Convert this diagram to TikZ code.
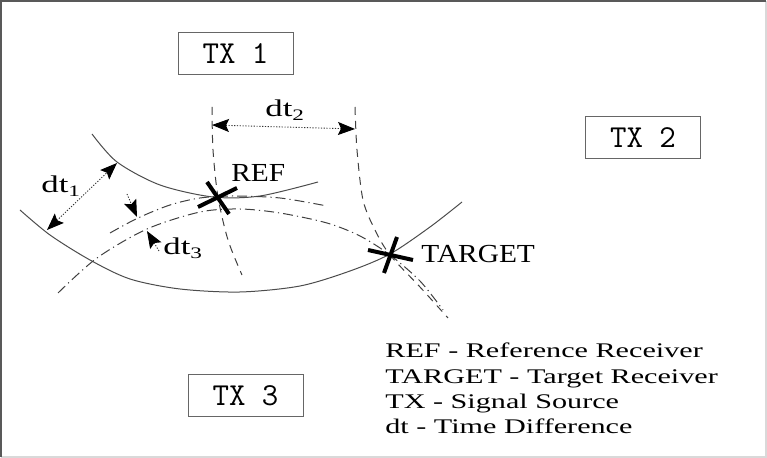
\documentclass[tikz,border=0pt]{standalone}
\usepackage{fontspec}
\usetikzlibrary{arrows.meta}
\newfontfamily\legendfont[FakeStretch=1.45]{Liberation Serif}
\newfontfamily\labelfont[FakeStretch=1.13]{Liberation Serif}

\begin{document}
\begin{tikzpicture}[x=0.5pt, y=-0.5pt,
    txbox/.style={draw=black!60, line width=0.5pt, font=\ttfamily\fontsize{16}{18}\selectfont, minimum width=57.5pt, minimum height=21pt, inner sep=0pt},
    arc/.style={draw=black!70, line width=0.5pt},
    hyper/.style={draw=black!75, line width=0.5pt, dash pattern=on 4pt off 3pt},
    dashdot/.style={draw=black!75, line width=0.5pt, dash pattern=on 5pt off 2pt on 0.6pt off 2pt},
    dtarrow/.style={black!80, line width=0.45pt, dash pattern=on 0.6pt off 0.8pt, -{Stealth[length=8.5pt,width=6.5pt,inset=1.5pt,black]}},
    dtboth/.style={dtarrow, {Stealth[length=8.5pt,width=6.5pt,inset=1.5pt,black]}-{Stealth[length=8.5pt,width=6.5pt,inset=1.5pt,black]}},
    crossline/.style={line width=2pt, black},
    lbl/.style={anchor=base west, inner sep=0pt, font=\labelfont\fontsize{13}{15}\selectfont},
    legend/.style={anchor=base west, inner sep=0pt, font=\legendfont\fontsize{10.4}{12.6}\selectfont},
    dtlbl/.style={legend, font=\legendfont\fontsize{12}{14}\selectfont}]
    \useasboundingbox (0,0) rectangle (767,458);
    % frame
    \draw[black!15, line width=1pt] (1,457) -- (766,457) -- (766,1);
    \draw[black!65, line width=1pt] (1,457) -- (1,1) -- (766,1);

    % transmitters
    \node[txbox] (tx1) at (235.5,53.5) {TX 1};
    \node[txbox] (tx2) at (643,137.5) {TX 2};
    \node[txbox] (tx3) at (245.5,396) {TX 3};

    % receivers
    \coordinate (ref) at (218,198);
    \coordinate (target) at (390,255);

    % circles
    \draw[arc] plot[smooth] coordinates {(92,134) (117,162) (160,185) (213,197) (260,196) (318,182)};
    \draw[arc] plot[smooth] coordinates {(20,210) (50,235) (90,260) (130,279) (180,289) (240,292) (300,286) (350,271) (390,254) (430,227) (462,202)};

    % hyperbolas
    \draw[hyper] plot[smooth] coordinates {(212,107) (213,150) (218,197) (228,240) (242,275)};
    \draw[hyper] plot[smooth] coordinates {(355,107) (357,150) (363,200) (375,230) (390,255) (420,287) (448,318)};
    \draw[dashdot] plot[smooth] coordinates {(110,233) (138,218) (170,205) (200,198) (233,196) (280,198) (327,206)};
    \draw[dashdot] plot[smooth] coordinates {(58,293) (97,258) (147,229) (200,212) (240,209) (280,213) (327,223) (360,236) (390,255) (420,281) (443,310)};

    % crosses
    \draw[crossline] ([shift={(-20,9)}]ref) -- ([shift={(19,-10)}]ref);
    \draw[crossline] ([shift={(-11,-16)}]ref) -- ([shift={(11,16)}]ref);
    \draw[crossline] ([shift={(-22,-5)}]target) -- ([shift={(23,5)}]target);
    \draw[crossline] ([shift={(7,-18)}]target) -- ([shift={(-6,18)}]target);
    \node[lbl] (reflbl) at (231,181.5) {REF};
    \node[lbl] (targetlbl) at (421,262.5) {TARGET};

    % time differences
    \coordinate (dt1a) at (47,230);
    \coordinate (dt1b) at (117,163);
    \draw[dtboth] (dt1a) -- (dt1b);
    \node[dtlbl] (dt1) at (41,193) {dt\textsubscript{1}};
    \coordinate (dt2a) at (212,125);
    \coordinate (dt2b) at (355,129);
    \draw[dtboth] (dt2a) -- (dt2b);
    \node[dtlbl] (dt2) at (265,116.5) {dt\textsubscript{2}};
    \coordinate (dt3a) at (127,194);
    \coordinate (dt3b) at (137,217);
    \coordinate (dt3c) at (159,251);
    \coordinate (dt3d) at (147,231);
    \draw[dtarrow] (dt3a) -- (dt3b);
    \draw[dtarrow] (dt3c) -- (dt3d);
    \node[dtlbl] (dt3) at (163,255) {dt\textsubscript{3}};

    % legend
    \node[legend] (leg1) at (385,357.7) {REF - Reference Receiver};
    \node[legend] (leg2) at (385,383.3) {TARGET - Target Receiver};
    \node[legend] (leg3) at (385,408.3) {TX - Signal Source};
    \node[legend] (leg4) at (385,433.3) {dt - Time Difference};
\end{tikzpicture}
\end{document}
